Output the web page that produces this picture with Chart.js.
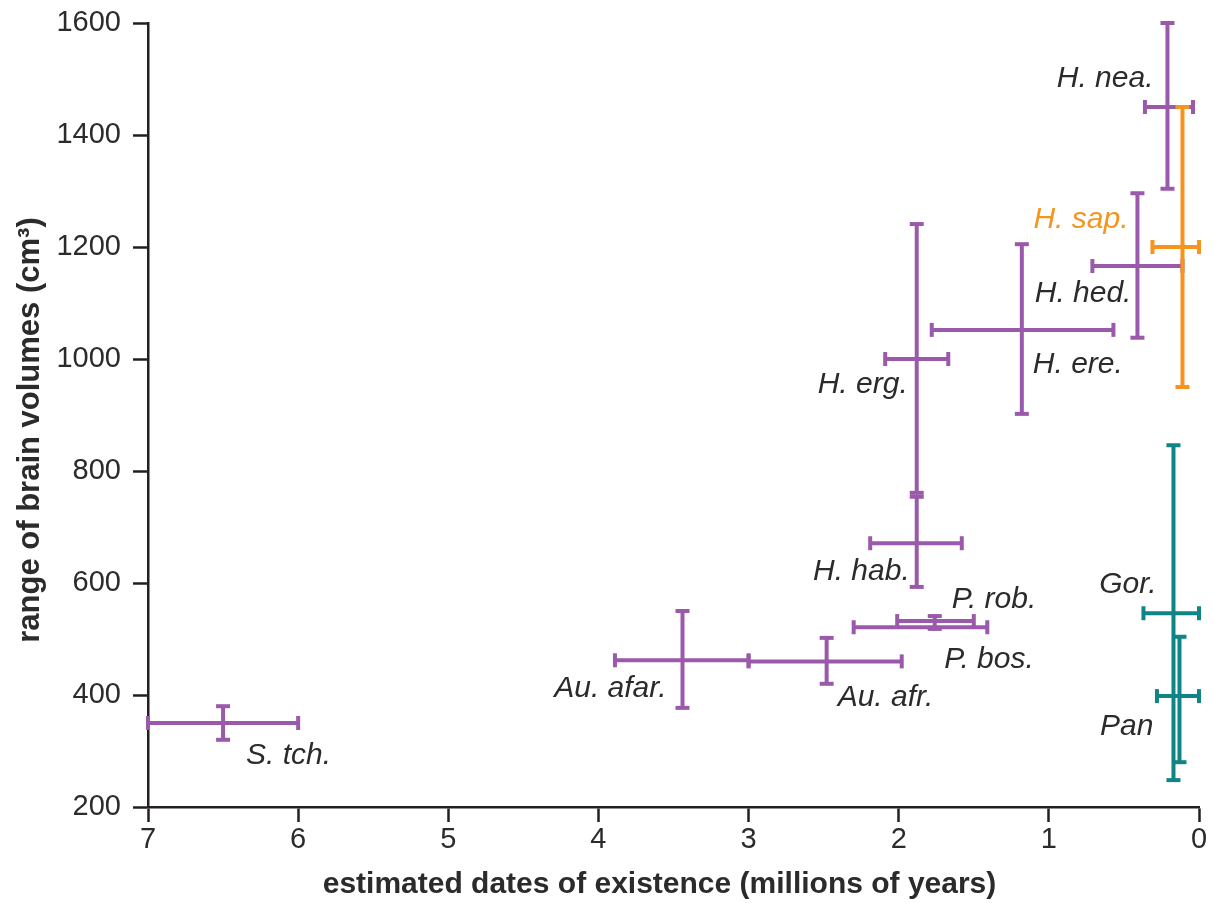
<!DOCTYPE html>
<html>
<head>
<meta charset="utf-8">
<script src="https://cdn.jsdelivr.net/npm/chart.js@4.4.1/dist/chart.umd.min.js"></script>
<style>
  html, body { margin: 0; padding: 0; background: #ffffff; }
  #wrap { width: 1214px; height: 903px; position: relative; }
</style>
</head>
<body>
<div id="wrap"><canvas id="c" width="1214" height="903"></canvas></div>
<script>
// ---- data ----
const species   = ['S. tch.', 'Au. afar.', 'Au. afr.', 'P. bos.', 'P. rob.', 'H. hab.', 'H. erg.', 'H. ere.', 'H. hed.', 'H. nea.', 'H. sap.', 'Gor.', 'Pan'];
const groups    = ['hominin', 'hominin', 'hominin', 'hominin', 'hominin', 'hominin', 'hominin', 'hominin', 'hominin', 'hominin', 'sapiens', 'ape', 'ape'];
// dates of existence (millions of years ago): centre, oldest, youngest
const dateMid   = [6.50, 3.44, 2.48, 1.85, 1.76, 1.88, 1.88, 1.18, 0.41, 0.21, 0.11, 0.17, 0.13];
const dateOld   = [7.00, 3.89, 3.00, 2.30, 2.01, 2.19, 2.09, 1.78, 0.71, 0.36, 0.31, 0.37, 0.28];
const dateYoung = [6.00, 3.00, 1.98, 1.41, 1.50, 1.58, 1.67, 0.57, 0.11, 0.04, 0.00, 0.00, 0.00];
// brain volume (cm3): centre, min, max
const volMid    = [350, 462, 460, 521, 532, 671, 1000, 1052, 1166, 1450, 1200, 546, 398];
const volMin    = [320, 377, 420, 521, 518, 593, 761, 902, 1038, 1304, 950, 248, 280];
const volMax    = [380, 550, 502, 521, 541, 754, 1241, 1205, 1296, 1600, 1450, 846, 504];
const xTicks    = [0, 1, 2, 3, 4, 5, 6, 7];
const yTicks    = [200, 400, 600, 800, 1000, 1200, 1400, 1600];
const xTitle    = 'estimated dates of existence (millions of years)';
const yTitle    = 'range of brain volumes (cm³)';

// ---- styles ----
const groupColor = { hominin: '#9b59ab', sapiens: '#f7941d', ape: '#0f8585' };
const groupOrder = { hominin: 3, ape: 2, sapiens: 1 };
const labelColor = { hominin: '#2b2b2b', sapiens: '#f7941d', ape: '#2b2b2b' };
// label placement relative to the centre point, in pixels: [dx, dy(baseline), align]
const labelPlace = [
  [23, 41, 'left'], [-16, 37, 'right'], [11, 45, 'left'], [23, 41, 'left'], [17, -13, 'left'],
  [-7, 37, 'right'], [-9, 34, 'right'], [11, 43, 'left'], [-6, 36, 'right'], [-14, -20, 'right'],
  [-54, -19, 'right'], [-17, -20, 'right'], [-26, 39, 'right']
];
const FONT = '"Liberation Sans", Arial, Helvetica, sans-serif';
const INK = '#231f20';
const TEXT = '#2b2b2b';

const datasets = [];
species.forEach((name, i) => {
  const col = groupColor[groups[i]];
  const base = {
    type: 'scatter', showLine: true, borderColor: col, backgroundColor: col,
    pointBorderColor: col, pointBackgroundColor: col, borderWidth: 4,
    pointStyle: 'line', pointRadius: 7, pointBorderWidth: 4, pointHoverRadius: 7,
    borderCapStyle: 'butt', clip: false, order: groupOrder[groups[i]], label: name
  };
  datasets.push(Object.assign({}, base, {
    data: [{ x: dateOld[i], y: volMid[i] }, { x: dateYoung[i], y: volMid[i] }],
    pointRotation: 90
  }));
  if (volMin[i] !== volMax[i]) {
    datasets.push(Object.assign({}, base, {
      data: [{ x: dateMid[i], y: volMin[i] }, { x: dateMid[i], y: volMax[i] }],
      pointRotation: 0
    }));
  }
});

const speciesLabels = {
  id: 'speciesLabels',
  afterDatasetsDraw(chart) {
    const { ctx, scales } = chart;
    ctx.save();
    ctx.font = 'italic 30px ' + FONT;
    ctx.textBaseline = 'alphabetic';
    species.forEach((name, i) => {
      const px = scales.x.getPixelForValue(dateMid[i]);
      const py = scales.y.getPixelForValue(volMid[i]);
      const [dx, dy, align] = labelPlace[i];
      ctx.fillStyle = labelColor[groups[i]];
      ctx.textAlign = align;
      ctx.fillText(name, px + dx, py + dy);
    });
    ctx.restore();
  }
};

const axisTitles = {
  id: 'axisTitles',
  afterDraw(chart) {
    const { ctx, chartArea } = chart;
    ctx.save();
    ctx.fillStyle = TEXT;
    ctx.textAlign = 'center';
    ctx.textBaseline = 'middle';
    ctx.font = 'bold 30px ' + FONT;
    ctx.fillText(xTitle, (chartArea.left + chartArea.right) / 2 - 14, chartArea.bottom + 78);
    ctx.translate(30, (chartArea.top + chartArea.bottom) / 2 + 15);
    ctx.rotate(-Math.PI / 2);
    ctx.font = 'bold 31px ' + FONT;
    ctx.fillText(yTitle, 0, 0);
    ctx.restore();
  }
};

new Chart(document.getElementById('c'), {
  type: 'scatter',
  data: { datasets },
  options: {
    responsive: false,
    animation: false,
    events: [],
    layout: { padding: { top: 23, right: 15, left: 0, bottom: 0 } },
    plugins: { legend: { display: false }, tooltip: { enabled: false } },
    scales: {
      x: {
        type: 'linear', reverse: true, min: 0, max: 7,
        afterBuildTicks: (s) => { s.ticks = xTicks.map(v => ({ value: v })); },
        afterFit: (s) => { s.height = 96; s.paddingLeft = 0; s.paddingRight = 0; },
        border: { display: true, color: INK, width: 2.5 },
        grid: { display: true, drawOnChartArea: false, drawTicks: true, tickLength: 15, tickWidth: 2.5, tickColor: INK, color: INK },
        ticks: { color: TEXT, font: { family: FONT, size: 29 }, padding: 1, callback: (v) => String(v) }
      },
      y: {
        type: 'linear', min: 200, max: 1600,
        afterBuildTicks: (s) => { s.ticks = yTicks.map(v => ({ value: v })); },
        afterFit: (s) => { s.width = 148; s.paddingTop = 0; s.paddingBottom = 0; },
        border: { display: true, color: INK, width: 2.5 },
        grid: { display: true, drawOnChartArea: false, drawTicks: true, tickLength: 15, tickWidth: 2.5, tickColor: INK, color: INK },
        ticks: { color: TEXT, font: { family: FONT, size: 29 }, padding: 12, callback: (v) => String(v) }
      }
    }
  },
  plugins: [speciesLabels, axisTitles]
});
</script>
</body>
</html>
